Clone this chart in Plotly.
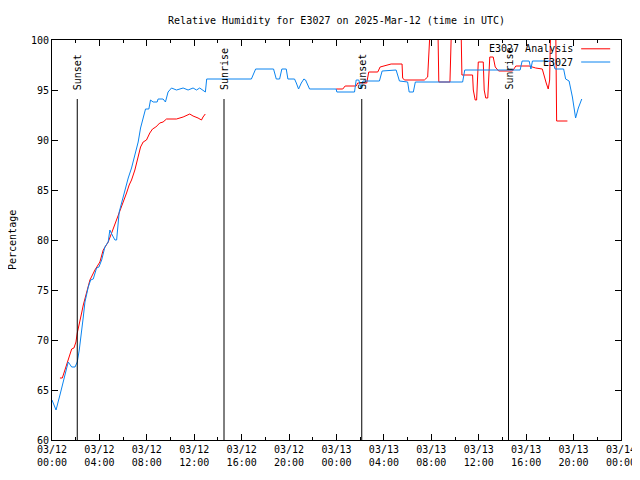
import pandas as pd
import plotly.graph_objects as go

# hours since 2025-03-12 00:00 UTC
blue_hours = [0.00, 0.34, 0.67, 0.95, 1.24, 1.37, 1.66, 1.94, 2.13, 2.30, 2.50, 2.64, 2.78,
              3.06, 3.26, 3.48, 3.76, 3.96, 4.19, 4.46, 4.74, 4.88, 5.08, 5.31, 5.45, 5.58,
              5.67, 5.87, 6.15, 6.43, 6.71, 6.99, 7.27, 7.47, 7.69, 7.89, 8.17, 8.31, 8.53,
              8.87, 8.95, 9.37, 9.57, 9.79, 10.08, 10.50, 11.06, 11.48, 11.90, 12.19, 12.46,
              12.74, 12.94, 13.05, 16.82, 17.18, 18.69, 18.92, 19.20, 19.39, 19.76, 19.90,
              20.46, 20.61, 20.80, 21.03, 21.25, 21.39, 21.73, 23.97, 24.03, 25.52, 25.66,
              25.88, 26.06, 26.23, 27.62, 27.85, 29.03, 29.31, 30.00, 30.13, 30.48, 30.65,
              34.64, 34.82, 39.49, 39.66, 40.25, 40.40, 40.53, 42.22, 42.44, 43.16, 43.33,
              43.62, 43.90, 44.17, 44.40, 44.69]
blue_vals = [64.0, 63.0, 64.5, 65.7, 67.2, 67.8, 67.3, 67.3, 67.8, 69.0, 70.7, 72.3, 73.8,
             75.3, 76.0, 76.1, 77.2, 77.3, 78.0, 79.3, 79.8, 81.0, 80.5, 80.0, 80.0, 81.3,
             82.8, 83.7, 85.0, 86.2, 87.2, 88.5, 89.8, 91.2, 92.3, 93.1, 93.1, 94.0, 93.8,
             93.8, 94.1, 94.1, 93.8, 94.8, 95.2, 95.0, 95.2, 95.0, 95.2, 95.0, 95.2,
             95.0, 94.8, 96.1, 96.1, 97.1, 97.1, 96.1, 96.1, 97.1, 97.1, 96.1,
             96.1, 95.7, 95.1, 95.7, 96.1, 96.0, 95.1, 95.1, 94.8, 94.8, 96.0,
             96.0, 95.2, 95.9, 95.9, 96.9, 97.0, 95.9, 95.8, 94.8, 94.8, 95.8,
             95.8, 97.0, 97.0, 97.9, 97.9, 97.1, 97.9, 97.9, 97.1, 97.1, 96.1,
             95.9, 94.3, 92.2, 93.2, 94.1]

red_hours = [0.67, 0.87, 1.09, 1.37, 1.66, 1.85, 2.02, 2.13, 2.30, 2.50, 2.64, 2.92, 3.20,
             3.62, 4.04, 4.32, 4.74, 5.03, 5.45, 5.73, 6.00, 6.29, 6.51, 6.71, 6.99, 7.27,
             7.47, 7.69, 7.97, 8.25, 8.48, 8.76, 9.09, 9.37, 9.66, 10.50, 11.06, 11.62,
             11.90, 12.32, 12.61, 12.74, 12.93,
             18.0,
             23.97, 24.53, 24.73, 25.66, 25.79, 26.55, 26.72, 27.48, 27.68, 28.61, 29.53,
             29.58, 29.73, 31.41, 31.69, 31.98, 32.53, 32.63, 33.57, 33.74, 34.48, 34.58,
             35.48, 35.54, 35.70, 35.82, 35.96, 36.38, 36.46, 36.59, 36.76, 36.93, 37.22,
             37.39, 37.68, 38.85, 39.13, 40.25, 40.80, 41.36, 41.69, 41.86, 41.98, 42.09,
             42.48, 42.57, 43.48]
red_vals = [66.2, 66.2, 67.0, 68.0, 69.1, 69.2, 69.8, 70.7, 71.5, 72.7, 73.5, 74.7, 76.0,
            77.0, 77.8, 79.0, 79.8, 80.7, 82.0, 83.0, 83.7, 84.7, 85.5, 86.0, 87.0, 88.2,
            89.3, 89.8, 90.0, 90.7, 91.1, 91.3, 91.7, 91.8, 92.1, 92.1, 92.3, 92.6,
            92.4, 92.2, 92.0, 92.3, 92.6,
            None,
            95.1, 95.1, 95.4, 95.4, 95.7, 95.7, 96.8, 96.8, 97.3, 97.6, 97.6,
            96.2, 96.0, 96.0, 96.3, 103.0, 103.0, 95.8, 95.8, 103.0, 103.0, 96.5,
            96.5, 95.0, 94.0, 94.0, 97.8, 97.8, 95.0, 94.2, 94.2, 98.3, 98.3,
            97.3, 96.9, 96.9, 97.4, 97.4, 97.2, 97.1, 95.7, 95.1, 96.0, 103.0,
            103.0, 91.9, 91.9]

sun_hours = [2.13, 14.51, 26.13, 38.51]
sun_labels = ["Sunset", "Sunrise", "Sunset", "Sunrise"]

y_ticks = [60, 65, 70, 75, 80, 85, 90, 95, 100]

start = pd.Timestamp("2025-03-12 00:00")
to_time = lambda hs: [start + pd.Timedelta(hours=h) for h in hs]

FONT = "DejaVu Sans Mono"
RED = "#ff0000"
BLUE = "#0a84f0"

fig = go.Figure()
fig.add_trace(go.Scatter(x=to_time(red_hours), y=red_vals, mode="lines", name="E3027 Analysis",
                         line=dict(color=RED, width=1), connectgaps=False, showlegend=False))
fig.add_trace(go.Scatter(x=to_time(blue_hours), y=blue_vals, mode="lines", name="E3027",
                         line=dict(color=BLUE, width=1), showlegend=False))

shapes = []
annotations = []
for h, lab in zip(sun_hours, sun_labels):
    t = start + pd.Timedelta(hours=h)
    shapes.append(dict(type="line", xref="x", yref="y", x0=t, x1=t, y0=60, y1=94.1,
                       line=dict(color="black", width=1)))
    annotations.append(dict(x=t, y=94.8, xref="x", yref="y", text=lab, showarrow=False,
                            textangle=-90, xanchor="center", yanchor="bottom",
                            font=dict(family=FONT, size=10, color="black")))

# manual legend (text left of line sample, as in the original)
for lab, col, yp in [("E3027 Analysis", RED, 0.978), ("E3027", BLUE, 0.945)]:
    annotations.append(dict(x=0.919, y=yp, xref="paper", yref="paper", text=lab,
                            showarrow=False, xanchor="right", yanchor="middle",
                            font=dict(family=FONT, size=10, color="black")))
    shapes.append(dict(type="line", xref="paper", yref="paper", x0=0.930, x1=0.981,
                       y0=yp, y1=yp, line=dict(color=col, width=1)))

annotations.append(dict(x=-0.0703, y=0.5, xref="paper", yref="paper", text="Percentage",
                        showarrow=False, textangle=-90, xanchor="center", yanchor="middle",
                        font=dict(family=FONT, size=10, color="black")))

# compensate for the page's body margin
fig.update_layout(
    width=640, height=472,
    margin=dict(l=44, r=19, t=32, b=40),
    paper_bgcolor="white", plot_bgcolor="white",
    title=dict(text="Relative Humidity for E3027 on 2025-Mar-12 (time in UTC)",
               x=0.5, xref="paper", y=1 - 12 / 472, yref="container", yanchor="middle",
               font=dict(family=FONT, size=10, color="black")),
    font=dict(family=FONT, size=10, color="black"),
    shapes=shapes, annotations=annotations,
)
fig.update_xaxes(type="date", range=[start, start + pd.Timedelta(hours=48)],
                 tick0=start, dtick=4 * 3600 * 1000, tickformat="%m/%d<br>%H:%M",
                 ticks="inside", ticklen=6, tickcolor="black",
                 minor=dict(dtick=2 * 3600 * 1000, ticks="inside", ticklen=3, tickcolor="black"),
                 showline=True, linecolor="black", linewidth=1, mirror="ticks",
                 showgrid=False, zeroline=False,
                 tickfont=dict(family=FONT, size=10, color="black"))
fig.update_yaxes(range=[60, 100], tickvals=y_ticks, ticktext=[str(v) for v in y_ticks],
                 ticks="inside", ticklen=6, tickcolor="black",
                 showline=True, linecolor="black", linewidth=1, mirror="ticks",
                 showgrid=False, zeroline=False,
                 tickfont=dict(family=FONT, size=10, color="black"))

fig.write_html("out.html")
